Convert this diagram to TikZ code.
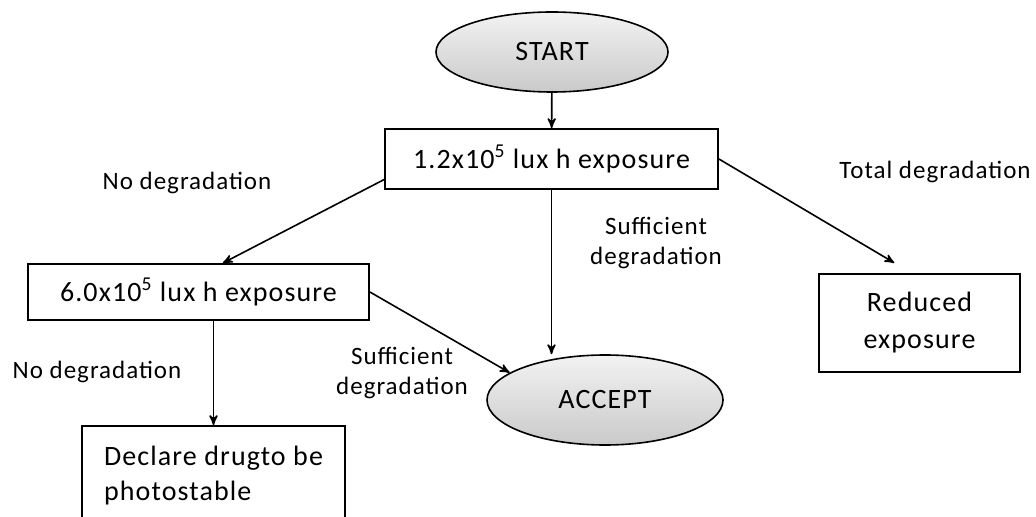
\documentclass[tikz,border=0pt]{standalone}
\usepackage{fontspec}
\setmainfont{Carlito}[LetterSpace=4]
\usetikzlibrary{positioning}
\usetikzlibrary{shapes.geometric}
\usetikzlibrary{arrows}

\tikzset{ stepbox/.style = { draw, line width=0.9pt, inner sep=0pt
                           , align=center
                           , font=\fontsize{14}{18.5}\selectfont }
        , endpoint/.style = { ellipse, draw, line width=0.8pt, inner sep=0pt
                            , top color=gray!10, bottom color=gray!42
                            , font=\fontsize{14}{16}\selectfont }
        , branch/.style = { align=center, font=\fontsize{12.5}{15}\selectfont }
        , flow/.style = { -stealth', line width=0.8pt }
        }

\begin{document}
\begin{tikzpicture}[x=0.5pt, y=-0.5pt] % pixel grid of the page

  \useasboundingbox (0,0) rectangle (1036,517);
  \clip (0,0) rectangle (1036,517);

  \node (start) [endpoint, minimum width=116pt, minimum height=40pt] at (552,52) {START};
  \node (accept) [endpoint, minimum width=118pt, minimum height=45pt] at (605,400) {ACCEPT};

  \node (lowdose) [stepbox, minimum width=166.5pt, minimum height=30pt] at (551.5,159)
    {1.2x10\textsuperscript{5} lux h exposure};
  \node (highdose) [stepbox, minimum width=170.5pt, minimum height=28pt] at (198.5,292)
    {6.0x10\textsuperscript{5} lux h exposure};
  \node (stable) [stepbox, align=left, font=\fontsize{14}{17.5}\selectfont
                 , minimum width=131.5pt, minimum height=50pt] at (213.5,476)
    {Declare drugto be\\photostable};
  \node (reduced) [stepbox, minimum width=100.5pt, minimum height=49pt] at (919.5,323)
    {Reduced\\exposure};

  \node (nodeg1) [branch] at (187,183) {No degradation};
  \node (nodeg2) [branch] at (97,372) {No degradation};
  \node (suff1) [branch] at (402,373) {Sufficient\\degradation};
  \node (suff2) [branch] at (656,243) {Sufficient\\degradation};
  \node (total) [branch] at (935,172) {Total degradation};

  \draw [flow] (start) to (lowdose);
  \draw [flow] (lowdose.187) to (highdose.50);
  \draw [flow] (lowdose.south) to (lowdose.south |- accept.north);
  \draw [flow, shorten >=10pt] (lowdose.east) to (reduced.99);
  \draw [flow] (highdose.east) to (accept.164);
  \draw [flow] (stable.north |- highdose.south) to (stable.north);

\end{tikzpicture}
\end{document}
